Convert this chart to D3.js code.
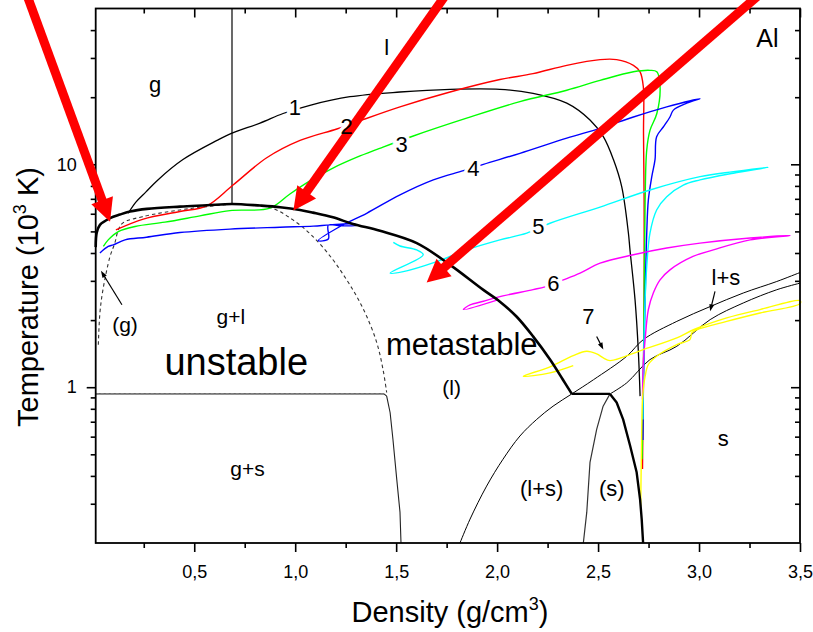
<!DOCTYPE html>
<html><head><meta charset="utf-8">
<script src="https://cdn.jsdelivr.net/npm/d3@7"></script>
<style>
html,body{margin:0;padding:0;background:#fff;}
svg{display:block;font-family:"Liberation Sans",Arial,Helvetica,sans-serif;}
</style></head><body>
<svg id="chart" width="813" height="632"></svg>
<script>
// ---------- data (density g/cm3, temperature 10^3 K) ----------
const xMajorTicks = [0.5, 1.0, 1.5, 2.0, 2.5, 3.0, 3.5];
const xMinorTicks = [0.25, 0.75, 1.25, 1.75, 2.25, 2.75, 3.25];
const yMajorTicks = [1, 10];
const yMinorTicks = [0.3,0.4,0.5,0.6,0.7,0.8,0.9,2,3,4,5,6,7,8,9,20,30,40];

const binodal = [[0.012,4.25],[0.017,4.93],[0.033,5.35],[0.083,5.73],[0.132,5.95],[0.182,6.14],[0.266,6.31],[0.429,6.46],[0.563,6.55],[0.687,6.64],[0.826,6.53],[0.925,6.42],[1.024,6.24],[1.088,6.07],[1.187,5.78],[1.286,5.40],[1.420,5.03],[1.602,4.43],[1.767,3.54],[1.930,2.74],[2.014,2.42],[2.097,2.07],[2.178,1.69],[2.262,1.33],[2.326,1.08],[2.370,0.933]];
const tripleLine = [[2.370,0.933],[2.559,0.933]];
const solidBranch = [[2.559,0.933],[2.592,0.854],[2.624,0.717],[2.659,0.545],[2.691,0.415],[2.708,0.314],[2.716,0.256],[2.723,0.2]];
const spinodal = [[0.025,1.55],[0.033,2.16],[0.048,2.74],[0.083,3.86],[0.107,4.44],[0.124,5.08],[0.147,5.46],[0.246,5.83],[0.429,6.24],[0.563,6.46],[0.687,6.6],[0.875,6.40],[0.989,5.63],[1.088,4.74],[1.187,3.73],[1.255,3.03],[1.305,2.55],[1.354,2.08],[1.404,1.585],[1.435,1.20],[1.453,0.947]];
const gsLine = [[0.012,0.933],[1.44,0.933]];
const gsBoundary = [[1.44,0.933],[1.453,0.912],[1.470,0.77],[1.484,0.584],[1.503,0.386],[1.519,0.275],[1.524,0.2]];
const lsLeft = [[1.816,0.2],[1.866,0.256],[1.948,0.36],[2.029,0.475],[2.113,0.604],[2.196,0.717],[2.277,0.822],[2.370,0.933],[2.477,1.08],[2.642,1.377],[2.724,1.635],[2.890,1.974],[3.055,2.30],[3.219,2.646],[3.385,2.98],[3.5,3.27]];
const sLeft = [[2.427,0.2],[2.444,0.275],[2.460,0.46],[2.493,0.647],[2.525,0.822],[2.559,0.933]];
const lsRight = [[2.559,0.933],[2.642,1.046],[2.757,1.33],[2.890,1.526],[3.055,2.01],[3.219,2.387],[3.385,2.737],[3.5,2.93]];
const criticalIsochore = [[0.687,6.64],[0.687,50]];

const curve1 = [[0.173,6.03],[0.212,6.78],[0.261,7.52],[0.320,8.51],[0.444,10.5],[0.613,12.8],[0.687,13.8],[0.826,15.3],[0.940,16.9],[1.073,18.4],[1.271,20.1],[1.519,21.1],[1.767,21.7],[2.014,21.7],[2.178,20.8],[2.345,18.8],[2.460,15.8],[2.526,13.3],[2.576,10.5],[2.617,7.94],[2.650,4.93],[2.658,4.13],[2.683,2.47],[2.699,1.475],[2.708,0.912]];
const curve2 = [[0.112,5.08],[0.248,5.68],[0.429,6.14],[0.562,6.51],[0.692,8.07],[0.859,10.7],[1.024,12.8],[1.206,14.4],[1.305,15.5],[1.519,18.1],[1.767,21.1],[2.014,24.0],[2.178,25.5],[2.345,27.8],[2.510,29.5],[2.592,29.5],[2.675,27.8],[2.708,26.0],[2.724,22.3],[2.725,13.8],[2.728,6.92],[2.728,2.47],[2.723,0.88],[2.72,0.43]];
const curve3 = [[0.050,4.28],[0.074,4.58],[0.124,4.99],[0.207,5.26],[0.355,5.50],[0.528,5.87],[0.677,6.20],[0.875,6.36],[0.974,7.36],[1.073,8.42],[1.187,9.62],[1.321,10.9],[1.435,11.95],[1.585,13.4],[1.849,16.1],[2.113,19.1],[2.345,21.5],[2.510,23.8],[2.675,26.0],[2.757,26.4],[2.791,26.0],[2.807,22.3],[2.791,16.9],[2.757,14.2],[2.741,11.6],[2.733,6.92],[2.728,2.47],[2.723,0.88],[2.718,0.475]];
const curve4 = [[0.033,4.00],[0.074,4.28],[0.099,4.35],[0.157,4.58],[0.264,4.71],[0.429,4.94],[0.677,5.12],[0.925,5.22],[1.090,5.28],[1.172,5.35],[1.288,5.40],[1.306,5.32],[1.222,5.30],[1.164,5.33],[1.164,4.62],[1.114,4.55],[1.222,5.26],[1.354,6.03],[1.519,7.29],[1.684,8.51],[1.833,9.36],[1.932,10.0],[2.113,11.2],[2.345,13.1],[2.510,14.5],[2.675,16.3],[2.840,18.1],[3.005,19.7],[2.939,18.8],[2.873,17.5],[2.856,16.3],[2.823,14.7],[2.790,13.3],[2.782,10.5],[2.766,8.80],[2.749,6.92],[2.741,4.93],[2.733,2.47],[2.725,1.08],[2.722,0.58]];
const curve5 = [[1.486,4.46],[1.519,4.30],[1.602,4.13],[1.634,3.93],[1.470,3.25],[1.535,3.30],[1.701,3.66],[1.849,4.13],[2.014,4.58],[2.147,4.91],[2.262,5.44],[2.510,6.43],[2.757,7.67],[3.005,8.80],[3.170,9.27],[3.343,9.70],[3.170,9.12],[3.005,8.51],[2.922,8.07],[2.840,7.16],[2.790,6.24],[2.757,4.91],[2.741,3.48],[2.733,2.47],[2.725,1.20],[2.722,0.717]];
const curve6 = [[2.007,2.47],[1.833,2.23],[1.866,2.34],[1.932,2.43],[2.014,2.55],[2.178,2.74],[2.237,2.82],[2.328,3.03],[2.411,3.25],[2.510,3.60],[2.675,3.93],[2.840,4.21],[3.005,4.43],[3.253,4.67],[3.451,4.79],[3.253,4.58],[3.071,4.13],[2.970,3.86],[2.856,3.36],[2.807,3.03],[2.774,2.65],[2.749,2.23],[2.733,1.635],[2.724,1.29],[2.72,0.88]];
const curve7 = [[2.377,1.25],[2.262,1.16],[2.130,1.12],[2.262,1.234],[2.377,1.386],[2.444,1.45],[2.493,1.41],[2.526,1.354],[2.559,1.316],[2.724,1.475],[2.890,1.664],[2.972,1.81],[3.137,2.045],[3.302,2.23],[3.5,2.444],[3.5,2.37],[3.302,2.153],[3.137,1.974],[2.989,1.81],[2.964,1.752],[2.955,1.635],[2.890,1.553],[2.790,1.377],[2.749,1.264],[2.733,1.12],[2.721,0.912],[2.715,0.53],[2.711,0.293]];

const curveColors = ["#000000","#ff0000","#00ff00","#0000ff","#00ffff","#ff00ff","#ffff00"];

// annotation arrows: [tail, tip]
const redArrows = [[[-0.355,66.8],[0.083,5.52]],[[1.796,66.8],[0.991,6.20]],[[3.380,66.8],[1.651,2.95]]];
const smallArrows = [[[0.142,2.345],[0.038,3.33]],[[2.493,1.69],[2.526,1.475]],[[3.079,2.69],[3.055,2.19]]];

// labels: text, density, temperature (baseline), font size, halo
const labelText = ["g","l","Al","1","2","3","4","5","6","7","l+s","g+l","(g)","unstable","metastable","(l)","g+s","(l+s)","(s)","s"];
const labelX    = [0.306,1.453,3.339,0.999,1.255,1.527,1.882,2.204,2.278,2.452,3.133,0.681,0.157,0.708,1.825,1.775,0.764,2.221,2.568,3.120];
const labelY    = [21.1,30.8,33.5,16.6,13.7,11.3,8.89,4.86,2.71,1.93,2.88,1.93,1.775,1.14,1.40,0.918,0.398,0.324,0.324,0.544];
const labelSize = [22,22,25,22,22,22,22,22,22,22,22,21,21,38,31,21,21,22,22,22];
const labelHalo = [0,0,0,1,1,1,1,1,1,0,0,0,0,0,0,0,0,0,0,0];

// ---------- drawing ----------
const M = {left:95.7, right:800, top:8.5, bottom:543};
const x = d3.scaleLinear().domain([0.012,3.5]).range([M.left,M.right]);
const y = d3.scaleLog().domain([0.2,50]).range([M.bottom,M.top]);
const svg = d3.select('#chart');

function drawLine(data, color, width, dash, curve){
  const gen = d3.line().x(d=>x(d[0])).y(d=>y(d[1])).curve(curve || d3.curveLinear);
  svg.append('path').attr('d', gen(data)).attr('fill','none')
    .attr('stroke', color).attr('stroke-width', width)
    .attr('stroke-dasharray', dash || null)
    .attr('stroke-linejoin','round').attr('stroke-linecap','butt');
}
const smooth = d3.curveCatmullRom.alpha(0.5);

// phase diagram lines
drawLine(criticalIsochore, '#444', 1.6);
drawLine(gsLine, '#333', 1.1);
drawLine(gsLine, '#888', 1.1, '3,2');
drawLine(gsBoundary, '#222', 1.1);
drawLine(spinodal, '#333', 1.1, '3.5,3', smooth);
drawLine(lsLeft, '#000', 1.0, null, smooth);
drawLine(lsRight, '#000', 1.0, null, smooth);
drawLine(sLeft, '#333', 1.2);

// trajectories
[curve1,curve2,curve3,curve4,curve5,curve6,curve7].forEach((c,i)=>{
  drawLine(c, curveColors[i], i===0?1.3:1.4, null, smooth);
});

// thick binodal + triple line + solid branch
drawLine(binodal, '#000', 2.6, null, smooth);
drawLine(tripleLine, '#000', 2.4);
drawLine(solidBranch, '#000', 2.4);

// axes
const gx = svg.append('g').attr('transform',`translate(0,${M.bottom})`);
gx.call(d3.axisBottom(x).tickValues(xMajorTicks).tickSize(9).tickPadding(13)
  .tickFormat(d=>d3.format('.1f')(d).replace('.',',')));
gx.append('g').call(d3.axisBottom(x).tickValues(xMinorTicks).tickSize(5).tickFormat(''));
const gt = svg.append('g').attr('transform',`translate(0,${M.top})`);
gt.call(d3.axisBottom(x).tickValues(xMajorTicks).tickSize(9).tickFormat(''));
gt.append('g').call(d3.axisBottom(x).tickValues(xMinorTicks).tickSize(5).tickFormat(''));
const gy = svg.append('g').attr('transform',`translate(${M.left},0)`);
gy.call(d3.axisLeft(y).tickValues(yMajorTicks).tickSize(9).tickPadding(10).tickFormat(d3.format('d')));
gy.append('g').call(d3.axisLeft(y).tickValues(yMinorTicks).tickSize(5).tickFormat(''));
const gr = svg.append('g').attr('transform',`translate(${M.right},0)`);
gr.call(d3.axisLeft(y).tickValues(yMajorTicks).tickSize(9).tickFormat(''));
gr.append('g').call(d3.axisLeft(y).tickValues(yMinorTicks).tickSize(5).tickFormat(''));
svg.selectAll('.domain').remove();
svg.selectAll('.tick line').attr('stroke','#000').attr('stroke-width',1.6);
svg.selectAll('.tick text').attr('font-size',18).attr('fill','#000')
  .attr('font-family','"Liberation Sans",Arial,sans-serif');
svg.append('rect').attr('x',M.left).attr('y',M.top)
  .attr('width',M.right-M.left).attr('height',M.bottom-M.top)
  .attr('fill','none').attr('stroke','#000').attr('stroke-width',1.8);

// axis titles
const xt = svg.append('text').attr('x', 450).attr('y', 622).attr('text-anchor','middle')
  .attr('font-size',29).attr('fill','#000');
xt.append('tspan').text('Density (g/cm');
xt.append('tspan').attr('font-size',18).attr('dy',-12).text('3');
xt.append('tspan').attr('dy',12).text(')');
const yt = svg.append('text').attr('transform','translate(38,297) rotate(-90)')
  .attr('text-anchor','middle').attr('font-size',29).attr('fill','#000');
yt.append('tspan').text('Temperature (10');
yt.append('tspan').attr('font-size',18).attr('dy',-12).text('3');
yt.append('tspan').attr('dy',12).text(' K)');

// label halos (cut the trajectories around the numbers)
labelText.forEach((t,i)=>{
  if (!labelHalo[i]) return;
  svg.append('text').attr('x', x(labelX[i])).attr('y', y(labelY[i]))
    .attr('text-anchor','middle').attr('font-size', labelSize[i])
    .attr('fill','#fff').attr('stroke','#fff').attr('stroke-width',7).text(t);
});

// arrows
function arrow(tail, tip, color, sw, hl, hw){
  const x0=x(tail[0]), y0=y(tail[1]), x1=x(tip[0]), y1=y(tip[1]);
  const dx=x1-x0, dy=y1-y0, L=Math.hypot(dx,dy), ux=dx/L, uy=dy/L;
  const bx=x1-ux*hl, by=y1-uy*hl;
  svg.append('line').attr('x1',x0).attr('y1',y0).attr('x2',bx+ux*2).attr('y2',by+uy*2)
    .attr('stroke',color).attr('stroke-width',sw);
  svg.append('polygon').attr('points',
    [[x1,y1],[bx-uy*hw/2,by+ux*hw/2],[bx+uy*hw/2,by-ux*hw/2]].map(p=>p.join(',')).join(' '))
    .attr('fill',color);
}
smallArrows.forEach(a=>arrow(a[0],a[1],'#000',1.2,7,5));
redArrows.forEach(a=>arrow(a[0],a[1],'#ff0000',9,23,23));

// label text on top
labelText.forEach((t,i)=>{
  svg.append('text').attr('x', x(labelX[i])).attr('y', y(labelY[i]))
    .attr('text-anchor','middle').attr('font-size', labelSize[i]).attr('fill','#000').text(t);
});
</script>
</body></html>
